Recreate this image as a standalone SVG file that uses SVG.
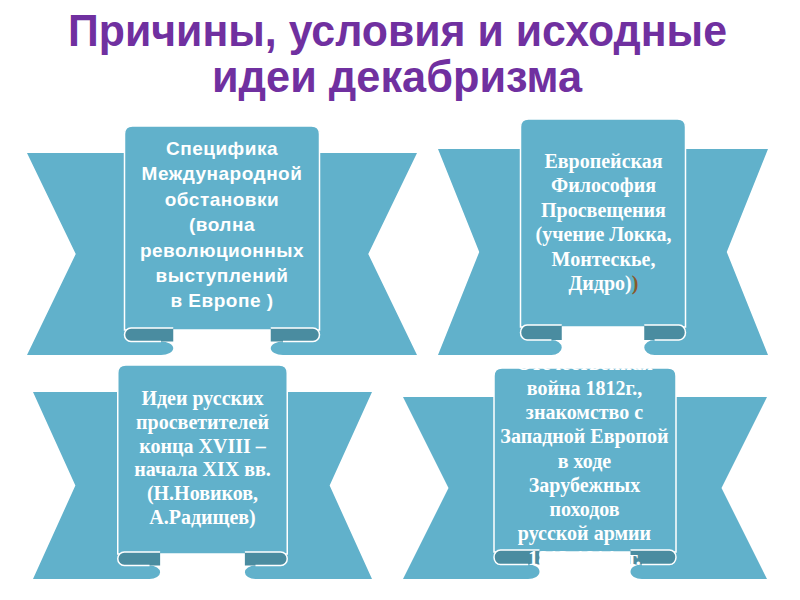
<svg xmlns="http://www.w3.org/2000/svg" width="800" height="600" viewBox="0 0 800 600">
<style>
.bg{fill:#ffffff}
.tail{fill:#61B1CB}
.panel{fill:#61B1CB;stroke:#ffffff;stroke-width:1.5}
.fold{fill:#4A8CA0}
.foldline{fill:none;stroke:#ffffff;stroke-width:1.5}
.title{font-family:"Liberation Sans",Arial,sans-serif;font-weight:bold;font-size:45px;fill:#7030A0;text-anchor:middle}
.sans{font-family:"Liberation Sans",Arial,sans-serif;font-weight:bold;font-size:19px;letter-spacing:0.5px;fill:#ffffff;text-anchor:middle}
.serif{font-family:"Liberation Serif","Times New Roman",serif;font-weight:bold;font-size:20px;fill:#ffffff;text-anchor:middle}
</style>
<rect class="bg" x="0" y="0" width="800" height="600"/>
<g id="title">
<text class="title" x="397.5" y="46" textLength="659" lengthAdjust="spacingAndGlyphs">Причины, условия и исходные</text>
<text class="title" x="397" y="92" textLength="370" lengthAdjust="spacingAndGlyphs">идеи декабризма</text>
</g>
<g id="connectors"></g>
<g id="node1">
<path class="tail" d="M27,153 L130,153 L130,341.5 L161.06,341.5 A12.19 6.75 0 0 1 161.06,355 L27,355 L75.75,254 Z"/>
<path class="tail" d="M417,153 L314,153 L314,341.5 L282.94,341.5 A12.19 6.75 0 0 0 282.94,355 L417,355 L368.25,254 Z"/>
<path class="panel" d="M124.5,330 V134 Q124.5,126 132.5,126 H311.5 Q319.5,126 319.5,134 V330 Z"/>
<path class="fold" d="M173.25,328 H131 A6.5 6.75 0 0 0 131,341.5 H173.25 Z"/>
<path class="fold" d="M270.75,328 H313 A6.5 6.75 0 0 1 313,341.5 H270.75 Z"/>
<path class="foldline" d="M173.25,328 H131 A6.5 6.75 0 0 0 131,341.5 H161"/>
<path class="foldline" d="M270.75,328 H313 A6.5 6.75 0 0 1 313,341.5 H283"/>
<text class="sans" x="222" y="155">Специфика</text>
<text class="sans" x="222" y="180.4">Международной</text>
<text class="sans" x="222" y="205.8">обстановки</text>
<text class="sans" x="222" y="231.2">(волна</text>
<text class="sans" x="222" y="256.6">революционных</text>
<text class="sans" x="222" y="282">выступлений</text>
<text class="sans" x="222" y="307.4">в Европе )</text>
</g>
<g id="node2">
<path class="tail" d="M438,149 L526,149 L526,340 L551.44,340 A10.31 7.5 0 0 1 551.44,355 L438,355 L479.25,252 Z"/>
<path class="tail" d="M768,149 L680,149 L680,340 L654.56,340 A10.31 7.5 0 0 0 654.56,355 L768,355 L726.75,252 Z"/>
<path class="panel" d="M520.5,327 V127 Q520.5,119 528.5,119 H677.5 Q685.5,119 685.5,127 V327 Z"/>
<path class="fold" d="M561.75,325 H527 A6.5 7.5 0 0 0 527,340 H561.75 Z"/>
<path class="fold" d="M644.25,325 H679 A6.5 7.5 0 0 1 679,340 H644.25 Z"/>
<path class="foldline" d="M561.75,325 H527 A6.5 7.5 0 0 0 527,340 H551.44"/>
<path class="foldline" d="M644.25,325 H679 A6.5 7.5 0 0 1 679,340 H654.56"/>
<text class="serif" x="603.5" y="168">Европейская</text>
<text class="serif" x="603.5" y="192.4">Философия</text>
<text class="serif" x="603.5" y="216.8">Просвещения</text>
<text class="serif" x="603.5" y="241.2">(учение Локка,</text>
<text class="serif" x="603.5" y="265.6">Монтескье,</text>
<text class="serif" x="603.5" y="290">Дидро)<tspan fill="#8A5A2A">)</tspan></text>
</g>
<g id="node3">
<path class="tail" d="M33,392 L123,392 L123,565.5 L149.53,565.5 A10.59 6.75 0 0 1 149.53,579 L33,579 L75.38,485.5 Z"/>
<path class="tail" d="M372,392 L282,392 L282,565.5 L255.47,565.5 A10.59 6.75 0 0 0 255.47,579 L372,579 L329.63,485.5 Z"/>
<path class="panel" d="M117.75,554 V373 Q117.75,365 125.75,365 H279.25 Q287.25,365 287.25,373 V554 Z"/>
<path class="fold" d="M160.13,552 H124.25 A6.5 6.75 0 0 0 124.25,565.5 H160.13 Z"/>
<path class="fold" d="M244.88,552 H280.75 A6.5 6.75 0 0 1 280.75,565.5 H244.88 Z"/>
<path class="foldline" d="M160.13,552 H124.25 A6.5 6.75 0 0 0 124.25,565.5 H149.53"/>
<path class="foldline" d="M244.88,552 H280.75 A6.5 6.75 0 0 1 280.75,565.5 H255.47"/>
<text class="serif" x="202.5" y="405">Идеи русских</text>
<text class="serif" x="202.5" y="428.8">просветителей</text>
<text class="serif" x="202.5" y="452.6">конца XVIII –</text>
<text class="serif" x="202.5" y="476.4">начала XIX вв.</text>
<text class="serif" x="202.5" y="500.2">(Н.Новиков,</text>
<text class="serif" x="202.5" y="524">А.Радищев)</text>
</g>
<g id="node4">
<path class="tail" d="M403,397 L500,397 L500,564.5 L528.13,564.5 A11.375 7.25 0 0 1 528.13,579 L403,579 L448.5,488 Z"/>
<path class="tail" d="M767,397 L670,397 L670,564.5 L641.88,564.5 A11.375 7.25 0 0 0 641.88,579 L767,579 L721.5,488 Z"/>
<path class="panel" d="M494,552 V376 Q494,368 502,368 H668 Q676,368 676,376 V552 Z"/>
<path class="fold" d="M539.5,550 H500.5 A6.5 7.25 0 0 0 500.5,564.5 H539.5 Z"/>
<path class="fold" d="M630.5,550 H669.5 A6.5 7.25 0 0 1 669.5,564.5 H630.5 Z"/>
<path class="foldline" d="M539.5,550 H500.5 A6.5 7.25 0 0 0 500.5,564.5 H528.13"/>
<path class="foldline" d="M630.5,550 H669.5 A6.5 7.25 0 0 1 669.5,564.5 H641.88"/>
<text class="serif" x="584.5" y="370.3">Отечественная</text>
<text class="serif" x="584.5" y="394.6">война 1812г.,</text>
<text class="serif" x="584.5" y="418.9">знакомство с</text>
<text class="serif" x="584.5" y="443.2">Западной Европой</text>
<text class="serif" x="584.5" y="467.5">в ходе</text>
<text class="serif" x="584.5" y="491.8">Зарубежных</text>
<text class="serif" x="584.5" y="516.1">походов</text>
<text class="serif" x="584.5" y="540.4">русской армии</text>
<text class="serif" x="584.5" y="564.7">1813-1814 гг.</text>
</g>
</svg>
